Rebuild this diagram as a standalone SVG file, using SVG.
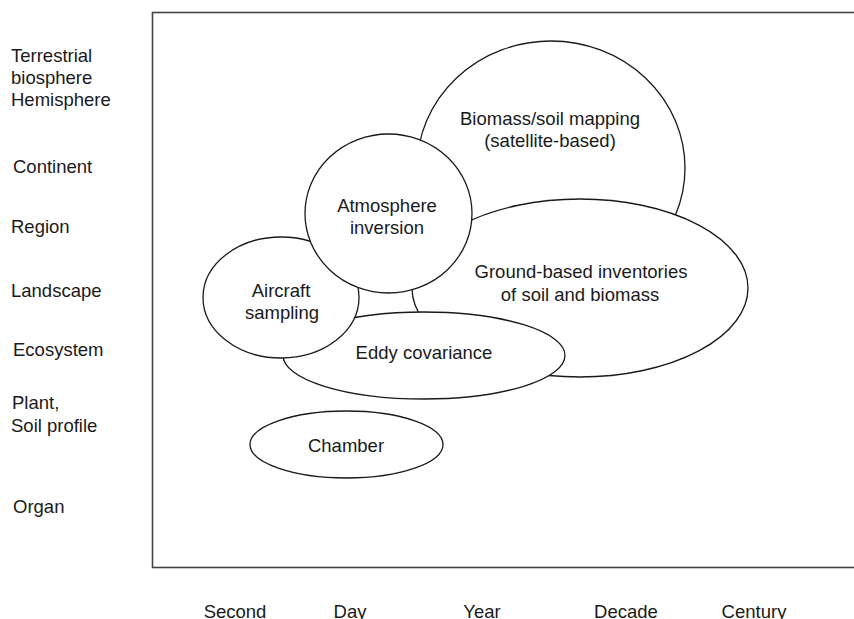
<svg xmlns="http://www.w3.org/2000/svg" width="854" height="619" viewBox="0 0 854 619">
<style>
  text { font-family: "Liberation Sans", Arial, sans-serif; font-size: 18.5px; fill: #1a1a1a; }
  .c { text-anchor: middle; }
  .node { fill: #ffffff; stroke: #1a1a1a; stroke-width: 1.3; }
  .frame { fill: #ffffff; stroke: #444444; stroke-width: 1.6; }
</style>
<rect x="0" y="0" width="854" height="619" fill="#ffffff"/>
<rect class="frame" x="152.5" y="12.5" width="720" height="555"/>
<g id="y-axis-labels">
  <text x="11" y="62">Terrestrial</text>
  <text x="11" y="84">biosphere</text>
  <text x="11" y="106">Hemisphere</text>
  <text x="13" y="173">Continent</text>
  <text x="11" y="233">Region</text>
  <text x="11" y="297">Landscape</text>
  <text x="13" y="356">Ecosystem</text>
  <text x="12" y="409">Plant,</text>
  <text x="11" y="432">Soil profile</text>
  <text x="13" y="513">Organ</text>
</g>
<g id="x-axis-labels">
  <text class="c" x="235" y="618">Second</text>
  <text class="c" x="350" y="618">Day</text>
  <text class="c" x="482" y="618">Year</text>
  <text class="c" x="626" y="618">Decade</text>
  <text class="c" x="754" y="618">Century</text>
</g>
<g id="connectors"></g>
<g id="biomass-mapping">
  <ellipse class="node" cx="551" cy="168" rx="134" ry="127"/>
  <text class="c" x="550" y="125">Biomass/soil mapping</text>
  <text class="c" x="550" y="147">(satellite-based)</text>
</g>
<g id="ground-inventories">
  <ellipse class="node" cx="580" cy="288" rx="168" ry="89"/>
  <text class="c" x="581" y="278">Ground-based inventories</text>
  <text class="c" x="580" y="301">of soil and biomass</text>
</g>
<g id="eddy-covariance">
  <ellipse class="node" cx="424" cy="355.5" rx="141" ry="43.5"/>
  <text class="c" x="424" y="359">Eddy covariance</text>
</g>
<g id="aircraft-sampling">
  <ellipse class="node" cx="281" cy="297.5" rx="78" ry="60.5"/>
  <text class="c" x="281" y="297">Aircraft</text>
  <text class="c" x="282" y="319">sampling</text>
</g>
<g id="atmosphere-inversion">
  <ellipse class="node" cx="388.5" cy="213.5" rx="83.5" ry="79.5"/>
  <text class="c" x="387" y="212">Atmosphere</text>
  <text class="c" x="387" y="234">inversion</text>
</g>
<g id="chamber">
  <ellipse class="node" cx="346.5" cy="444.5" rx="96.5" ry="33.5"/>
  <text class="c" x="346" y="452">Chamber</text>
</g>
</svg>
